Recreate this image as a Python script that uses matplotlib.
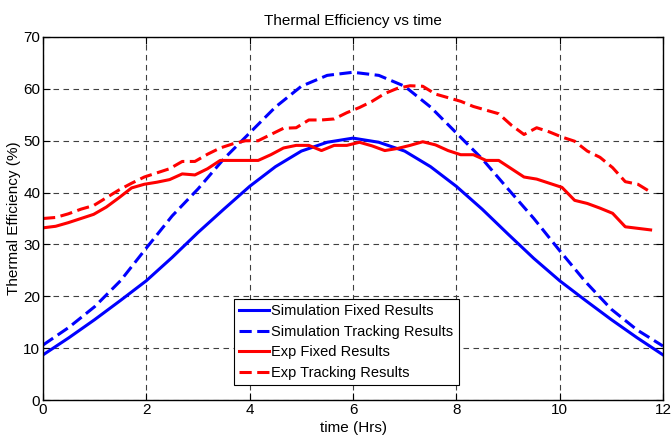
import numpy as np
import matplotlib
matplotlib.use("Agg")
import matplotlib.pyplot as plt

plt.rcParams['font.family'] = ['Liberation Sans', 'DejaVu Sans']

# Simulation results, sampled every half hour
sim_time = [0, 0.5, 1, 1.5, 2, 2.5, 3, 3.5, 4, 4.5, 5, 5.5, 6,
            6.5, 7, 7.5, 8, 8.5, 9, 9.5, 10, 10.5, 11, 11.5, 12]
sim_fixed = [8.7, 12.0, 15.5, 19.2, 23.0, 27.5, 32.3, 36.8, 41.2, 45.0, 48.0, 49.7, 50.5,
             49.7, 48.0, 45.0, 41.2, 36.8, 32.0, 27.3, 23.0, 19.2, 15.5, 12.0, 8.7]
sim_tracking = [10.6, 14.0, 18.0, 23.0, 29.3, 35.5, 40.7, 46.5, 51.5, 56.5, 60.5, 62.6, 63.2,
                62.6, 60.5, 56.5, 51.5, 46.5, 40.7, 35.0, 28.8, 22.8, 17.5, 13.5, 10.4]

# Measured results, one reading every 0.245 h
exp_time = np.round(np.arange(49) * 0.245, 3)
exp_fixed = [33.2, 33.5, 34.2, 35.0, 35.8, 37.2, 39.0, 40.9, 41.6, 42.0,
             42.5, 43.6, 43.4, 44.6, 46.2, 46.2, 46.2, 46.2, 47.3, 48.6,
             49.1, 49.1, 48.1, 49.1, 49.1, 49.7, 49.0, 48.1, 48.5, 49.1,
             49.8, 49.2, 48.1, 47.3, 47.3, 46.2, 46.2, 44.6, 43.0, 42.6,
             41.8, 41.0, 38.5, 37.9, 37.0, 36.0, 33.4, 33.1, 32.8]
exp_tracking = [35.0, 35.2, 35.9, 36.8, 37.5, 39.0, 40.5, 41.8, 43.0, 43.8,
                44.6, 46.0, 46.0, 47.4, 48.6, 49.4, 50.0, 50.0, 51.2, 52.4,
                52.5, 54.0, 54.0, 54.2, 55.4, 56.4, 57.6, 59.1, 60.1, 60.6,
                60.5, 59.0, 58.3, 57.6, 56.6, 55.9, 55.2, 53.0, 51.2, 52.5,
                51.7, 50.7, 49.9, 48.0, 46.8, 44.8, 42.1, 41.6, 40.1]

x_ticks = [0, 2, 4, 6, 8, 10, 12]
y_ticks = [0, 10, 20, 30, 40, 50, 60, 70]

fig = plt.figure(figsize=(6.71, 4.41), dpi=100)
ax = fig.add_axes([43 / 671, 1 - 400 / 441, 620 / 671, 363 / 441])

dash = (0, (4.0, 1.8))
ax.plot(sim_time, sim_fixed, color='#0000ff', lw=2.2, label='Simulation Fixed Results')
ax.plot(sim_time, sim_tracking, color='#0000ff', lw=2.2, linestyle=dash,
        label='Simulation Tracking Results')
ax.plot(exp_time, exp_fixed, color='#ff0000', lw=2.2, label='Exp Fixed Results')
ax.plot(exp_time, exp_tracking, color='#ff0000', lw=2.2, linestyle=dash,
        label='Exp Tracking Results')

ax.set_xlim(0, 12)
ax.set_ylim(0, 70)
ax.set_xticks(x_ticks)
ax.set_yticks(y_ticks)
ax.grid(True, color='0.25', linestyle=(0, (5, 4)), linewidth=0.8)
ax.tick_params(direction='in', top=True, right=True, length=5, width=0.8,
               labelsize=11, pad=2)
for s in ax.spines.values():
    s.set_linewidth(1.0)

ax.set_title('Thermal Efficiency vs time', fontsize=11, pad=9)
ax.set_xlabel('time (Hrs)', fontsize=11, labelpad=3)
ax.set_ylabel('Thermal Efficiency (%)', fontsize=11)
ax.yaxis.set_label_coords(-0.036, 0.5)

leg = ax.legend(loc='lower center', bbox_to_anchor=(0.4895, 0.041), borderaxespad=0,
                fontsize=10.5, fancybox=False, framealpha=1, edgecolor='black',
                handlelength=2.0, handletextpad=0.2, labelspacing=0.45,
                borderpad=0.35)
leg.get_frame().set_linewidth(0.8)

fig.savefig('out.png', dpi=100)
